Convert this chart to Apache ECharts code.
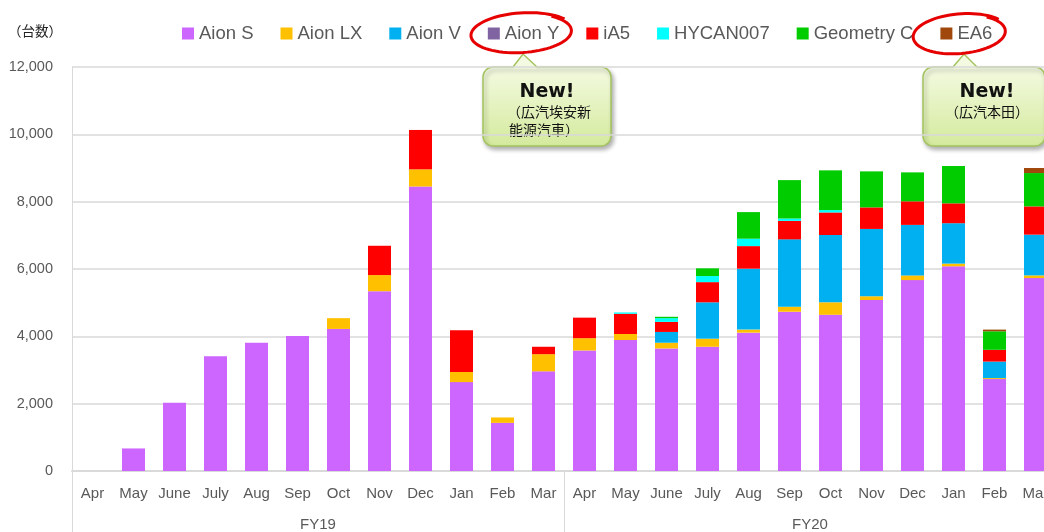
<!DOCTYPE html>
<html>
<head>
<meta charset="utf-8">
<script src="https://cdn.jsdelivr.net/npm/echarts@6/dist/echarts.min.js"></script>
<style>html,body{margin:0;padding:0;background:#fff;overflow:hidden;width:1044px;height:532px;}#chart{width:1056px;height:532px;}</style>
</head>
<body>
<div id="chart"></div>
<script>
const months = ['Apr','May','June','July','Aug','Sep','Oct','Nov','Dec','Jan','Feb','Mar',
                'Apr','May','June','July','Aug','Sep','Oct','Nov','Dec','Jan','Feb','Mar'];
const fiscalYears = ['FY19','FY20'];
const yTicks = [0, 2000, 4000, 6000, 8000, 10000, 12000];

const aionS      = [0,670,2030,3410,3810,4010,4220,5340,8450,2640,1430,2960, 3580,3890,3640,3690,4110,4730,4640,5080,5670,6080,2730,5730];
const aionLX     = [0,0,0,0,0,0,320,480,510,300,160,510, 365,180,170,240,90,150,370,110,140,80,30,80];
const aionV      = [0,0,0,0,0,0,0,0,0,0,0,0, 0,0,320,1080,1810,2000,2000,2000,1500,1200,490,1210];
const aionY      = [0,0,0,0,0,0,0,0,0,0,0,0, 0,0,0,0,0,0,0,0,0,0,0,0];
const iA5        = [0,0,0,0,0,0,0,870,1170,1240,0,220, 610,600,300,600,670,550,670,640,700,590,350,840];
const hycan007   = [0,0,0,0,0,0,0,0,0,0,0,0, 0,40,110,180,220,70,70,0,0,0,0,0];
const geometryC  = [0,0,0,0,0,0,0,0,0,0,0,0, 0,0,40,230,790,1140,1180,1070,860,1110,550,990];
const ea6        = [0,0,0,0,0,0,0,0,0,0,0,0, 0,0,0,0,0,0,0,0,0,0,50,150];

const seriesDefs = [
  ['Aion S', aionS, '#CC66FF'],
  ['Aion LX', aionLX, '#FFC000'],
  ['Aion V', aionV, '#00B0F0'],
  ['Aion Y', aionY, '#8064A2'],
  ['iA5', iA5, '#FF0000'],
  ['HYCAN007', hycan007, '#00FFFF'],
  ['Geometry C', geometryC, '#00CC00'],
  ['EA6', ea6, '#A0480C']
];

function ellipsePoints(cx, cy, rx, ry, a0, a1, tilt, grow) {
  const pts = [];
  const n = 80;
  for (let i = 0; i <= n; i++) {
    const t = a0 + (a1 - a0) * i / n;
    const g = 1 + grow * i / n;
    const x = rx * g * Math.cos(t), y = ry * g * Math.sin(t);
    pts.push([cx + x * Math.cos(tilt) - y * Math.sin(tilt), cy + x * Math.sin(tilt) + y * Math.cos(tilt)]);
  }
  return pts;
}

function callout(x, y, w, h, tailL, tailR, tipX, tipY, texts) {
  const grad = new echarts.graphic.LinearGradient(0, 0, 0, 1, [
    {offset: 0, color: '#F4FAE2'}, {offset: 1, color: '#D4EA9C'}
  ]);
  const els = [
    {type: 'rect', shape: {x: x, y: y, width: w, height: h, r: 10},
     style: {fill: grad, stroke: '#A3C45E', lineWidth: 1.5,
             shadowBlur: 4, shadowOffsetX: 2, shadowOffsetY: 3, shadowColor: 'rgba(0,0,0,0.3)'}},
    {type: 'polygon', shape: {points: [[tailL, y + 1.5], [tipX, tipY], [tailR, y + 1.5]]},
     style: {fill: '#F4FAE2'}},
    {type: 'polyline', shape: {points: [[tailL, y], [tipX, tipY], [tailR, y]]},
     style: {stroke: '#A3C45E', lineWidth: 1.5, fill: null}}
  ];
  texts.forEach(t => els.push({type: 'text', x: t.x, y: t.y,
    style: {text: t.text, font: t.font, fill: '#111', textAlign: t.align || 'center', textVerticalAlign: 'middle'}}));
  return els;
}

const cjk = '"Noto Sans CJK JP", "Noto Sans CJK SC", sans-serif';
const graphics = [].concat(
  [{type: 'text', left: 8, top: 24, style: {text: '（台数）', font: '13.5px ' + cjk, fill: '#222'}}],
  callout(483, 67, 128, 79, 513, 537, 523, 54, [
    {text: 'New!', x: 547, y: 92, font: 'bold 19px Verdana, "DejaVu Sans", sans-serif'},
    {text: '（広汽埃安新', x: 507, y: 112, font: '14px ' + cjk, align: 'left'},
    {text: '能源汽車）', x: 509, y: 130, font: '14px ' + cjk, align: 'left'}
  ]),
  callout(923, 67, 122, 79, 953, 977, 964, 54, [
    {text: 'New!', x: 987, y: 92, font: 'bold 19px Verdana, "DejaVu Sans", sans-serif'},
    {text: '（広汽本田）', x: 987, y: 112, font: '14px ' + cjk}
  ]),
  [
    {type: 'polyline', shape: {points: ellipsePoints(522, 33, 49, 19, -0.9, -0.9 + 2 * Math.PI + 0.3, -0.06, 0.07)},
     style: {stroke: '#E60000', lineWidth: 3, fill: null}, z: 100},
    {type: 'polyline', shape: {points: ellipsePoints(960, 34, 45, 19, -0.9, -0.9 + 2 * Math.PI + 0.3, -0.08, 0.07)},
     style: {stroke: '#E60000', lineWidth: 3, fill: null}, z: 100}
  ]
);

const chart = echarts.init(document.getElementById('chart'), null, {renderer: 'canvas'});
chart.setOption({
  animation: false,
  backgroundColor: '#fff',
  textStyle: {fontFamily: 'Arial, "Liberation Sans", sans-serif'},
  legend: {
    left: 177, top: 19,
    itemWidth: 12, itemHeight: 12, itemGap: 27,
    icon: 'rect',
    textStyle: {fontSize: 18.5, color: '#595959', fontFamily: 'Arial, "Liberation Sans", sans-serif'},
    data: seriesDefs.map(s => s[0])
  },
  grid: {left: 72, top: 67, width: 984, height: 406, containLabel: false},
  xAxis: [
    {type: 'category', data: months, position: 'bottom',
     axisLine: {lineStyle: {color: '#D9D9D9', width: 2}},
     axisTick: {show: false},
     axisLabel: {color: '#595959', fontSize: 15, margin: 15, interval: 0,
                 fontFamily: '"Liberation Sans Narrow", "Arial Narrow", Arial, sans-serif'}},
    {type: 'category', data: fiscalYears, position: 'bottom',
     axisLine: {show: false},
     axisTick: {show: true, length: 62, lineStyle: {color: '#D9D9D9', width: 1}},
     axisLabel: {color: '#595959', fontSize: 15, margin: 46,
                 fontFamily: '"Liberation Sans Narrow", "Arial Narrow", Arial, sans-serif'}}
  ],
  yAxis: {
    type: 'value', min: yTicks[0], max: yTicks[yTicks.length - 1], interval: yTicks[1] - yTicks[0],
    axisLine: {show: true, lineStyle: {color: '#D9D9D9', width: 1}},
    axisTick: {show: false},
    splitLine: {lineStyle: {color: '#D9D9D9', width: 1.5}},
    axisLabel: {color: '#595959', fontSize: 14.5, margin: 19,
                formatter: v => v.toLocaleString('en-US')}
  },
  series: seriesDefs.map(s => ({
    name: s[0], type: 'bar', stack: 'total', xAxisIndex: 0,
    data: s[1], barWidth: 23,
    itemStyle: {color: s[2]},
    emphasis: {disabled: true}
  })),
  graphic: graphics
});
</script>
</body>
</html>
